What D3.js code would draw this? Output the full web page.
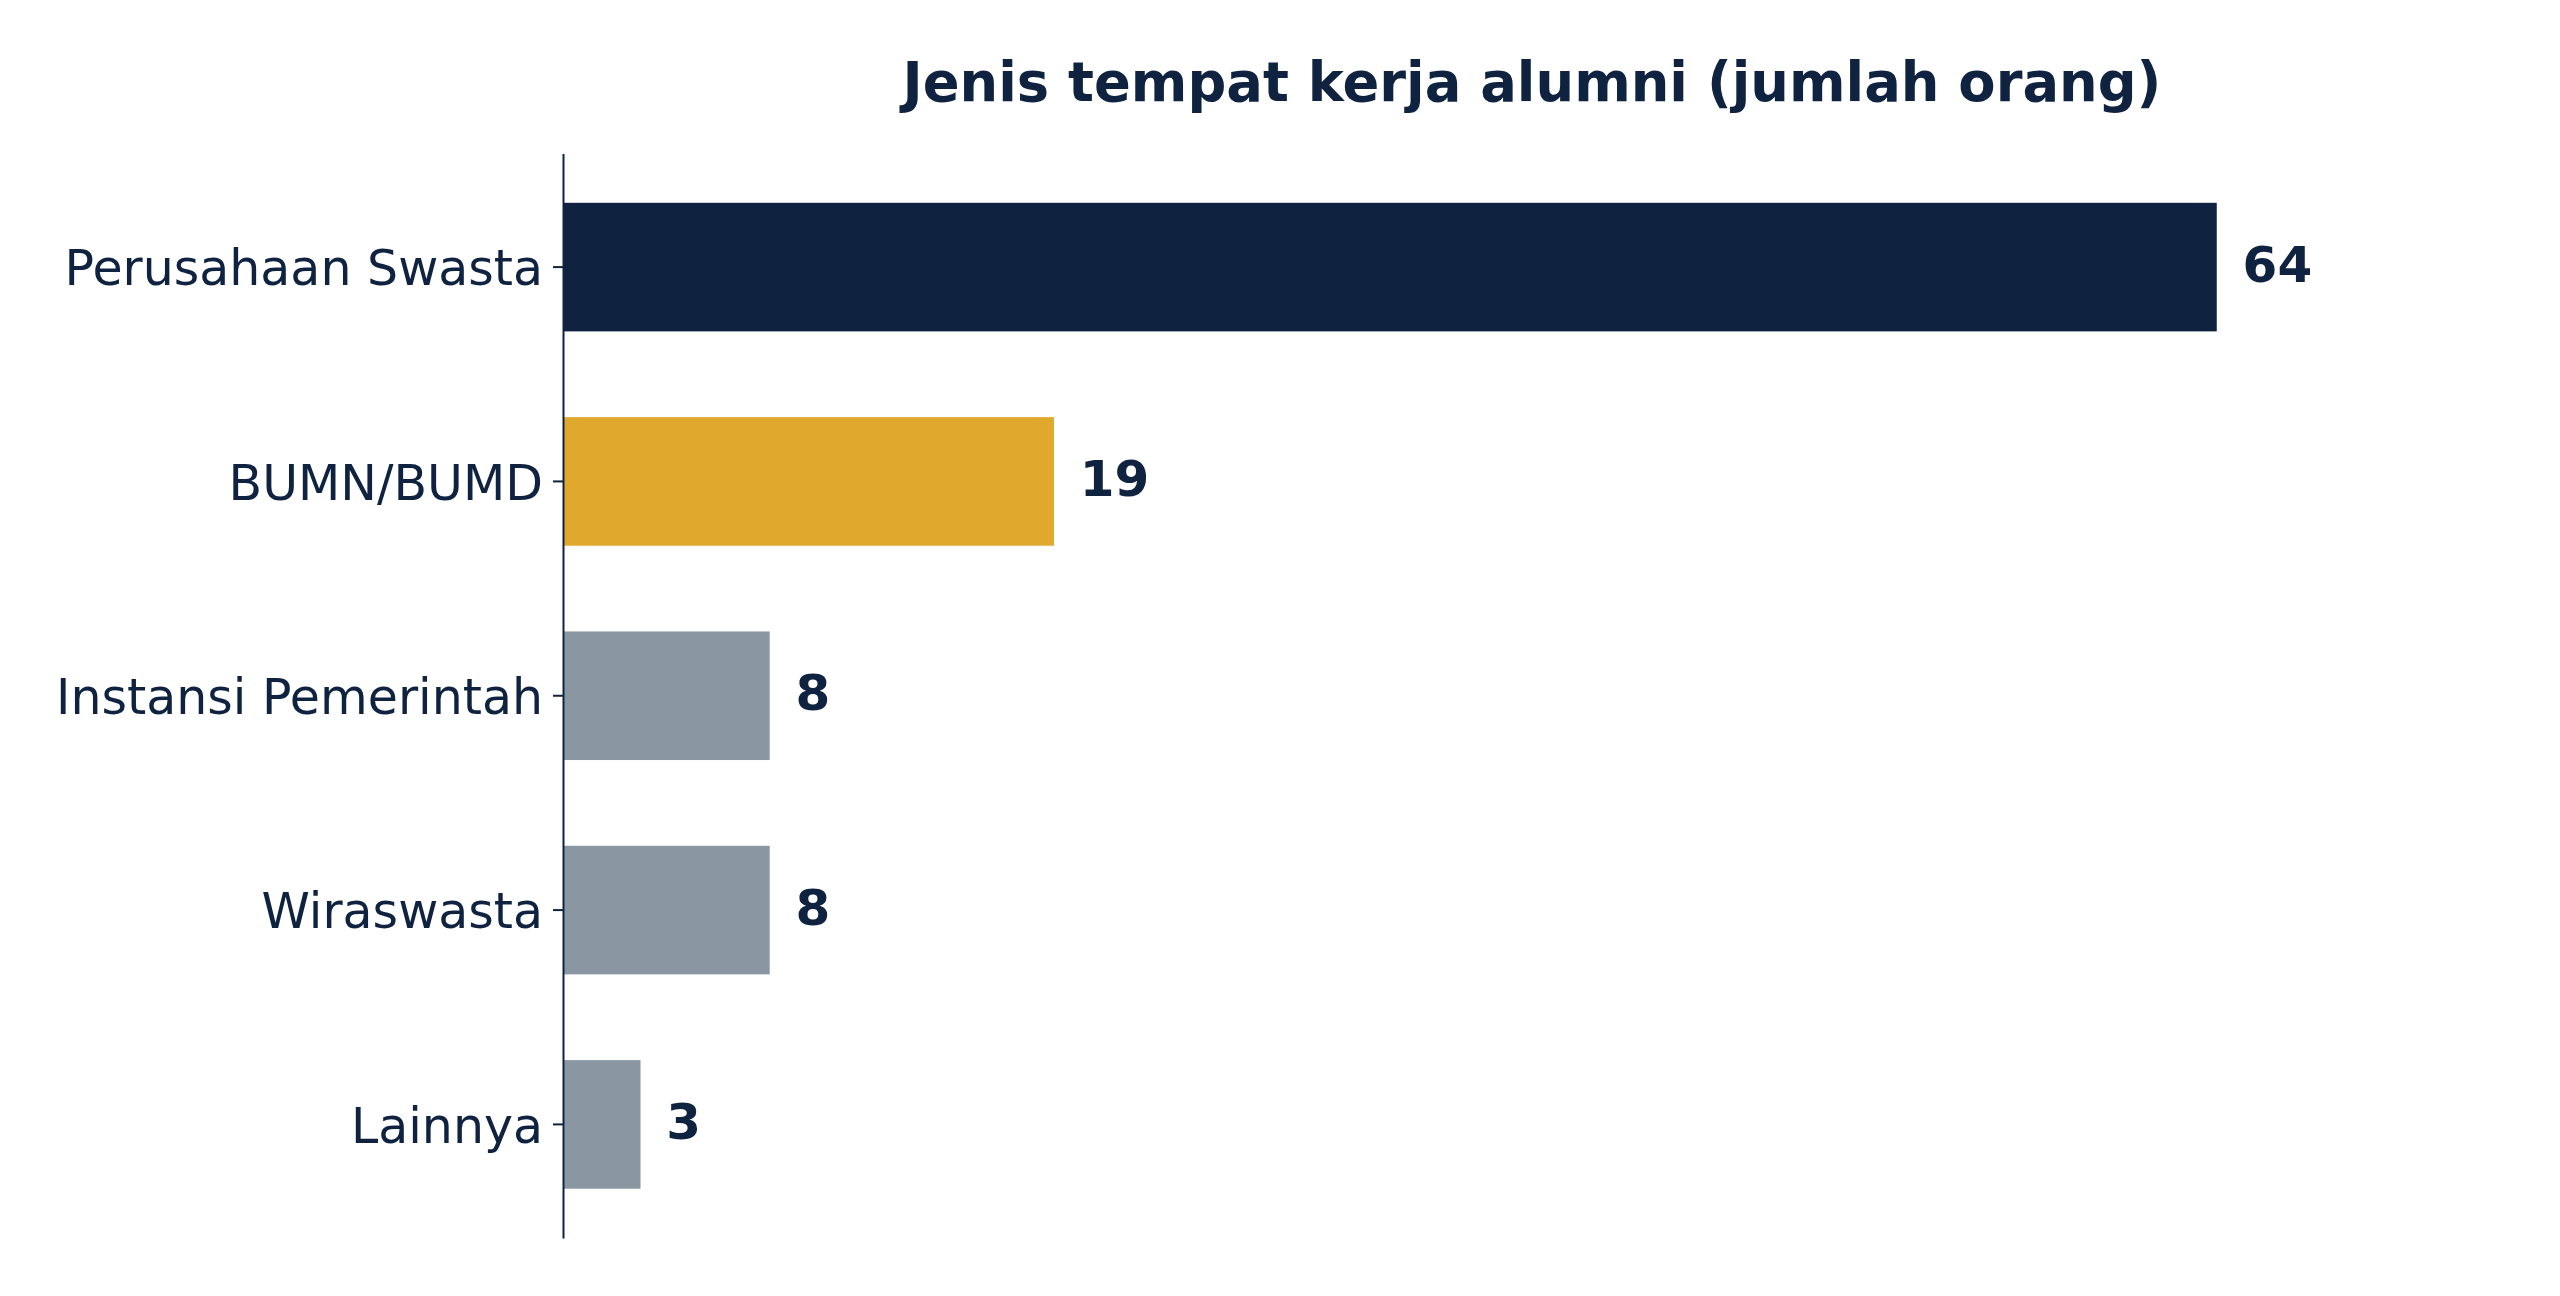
<!DOCTYPE html>
<html>
<head>
<meta charset="utf-8">
<script src="https://cdn.jsdelivr.net/npm/d3@7"></script>
<style>
    body { margin: 0; background: #fff; }
    text { font-family: "DejaVu Sans", sans-serif; fill: #0f2340; }
    .tick text { font-size: 49px; }
    .title { font-size: 54.3px; font-weight: bold; }
    .value { font-size: 50px; font-weight: bold; }
</style>
</head>
<body>
<div id="chart"></div>
<script>
    // data
    var categories = ["Perusahaan Swasta", "BUMN/BUMD", "Instansi Pemerintah", "Wiraswasta", "Lainnya"];
    var counts = [64, 19, 8, 8, 3];
    var barColors = ["#0f2340", "#e1a82e", "#8a97a3", "#8a97a3", "#8a97a3"];
    var titleText = "Jenis tempat kerja alumni (jumlah orang)";

    var width = 2560,
        height = 1296,
        margin = { top: 153.5, right: 59, bottom: 58, left: 563 };

    var svg = d3.select("#chart").append("svg")
        .attr("width", width)
        .attr("height", height);

    svg.append("rect")
        .attr("width", width)
        .attr("height", height)
        .attr("fill", "#fff");

    var x = d3.scaleLinear()
        .domain([0, 75])
        .range([margin.left, width - margin.right]);

    var y = d3.scaleBand()
        .domain(categories)
        .range([margin.top, height - margin.bottom])
        .paddingInner(0.4)
        .paddingOuter(0.23);

    var rows = categories.map(function (c, i) {
        return { name: c, value: counts[i], color: barColors[i] };
    });

    svg.selectAll(".bar")
        .data(rows)
        .enter().append("rect")
        .attr("class", "bar")
        .attr("x", x(0))
        .attr("y", function (d) { return y(d.name); })
        .attr("width", function (d) { return x(d.value) - x(0); })
        .attr("height", y.bandwidth())
        .attr("fill", function (d) { return d.color; });

    svg.selectAll(".value")
        .data(rows)
        .enter().append("text")
        .attr("class", "value")
        .attr("x", function (d) { return x(d.value + 1); })
        .attr("y", function (d) { return y(d.name) + y.bandwidth() / 2; })
        .attr("dy", "0.29em")
        .text(function (d) { return d.value; });

    var yAxis = svg.append("g")
        .attr("transform", "translate(" + margin.left + ",0)")
        .call(d3.axisLeft(y).tickSize(10).tickPadding(10).tickSizeOuter(0));

    yAxis.select(".domain")
        .attr("stroke", "#0f2340")
        .attr("stroke-width", 2);
    yAxis.selectAll(".tick line")
        .attr("stroke", "#0f2340")
        .attr("stroke-width", 2);
    yAxis.selectAll(".tick text")
        .attr("fill", "#0f2340")
        .attr("dy", "0.37em")
        .attr("font-family", null)
        .attr("font-size", null);

    svg.append("text")
        .attr("class", "title")
        .attr("x", (x.range()[0] + x.range()[1]) / 2)
        .attr("y", 101)
        .attr("text-anchor", "middle")
        .text(titleText);
</script>
</body>
</html>
